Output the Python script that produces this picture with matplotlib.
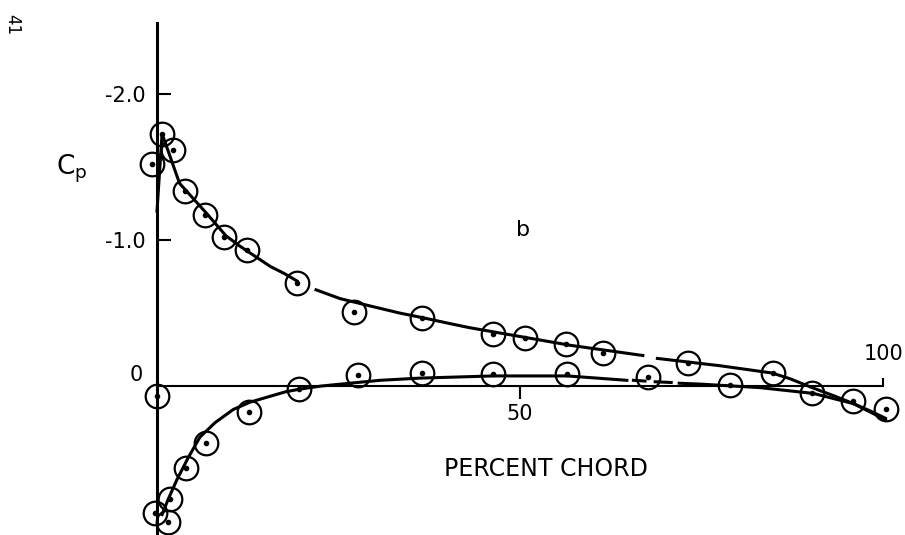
import numpy as np
import matplotlib
matplotlib.use("Agg")
import matplotlib.pyplot as plt

plt.rcParams['font.family'] = ['DejaVu Sans']
plt.rcParams['axes.unicode_minus'] = False

# measured points (percent chord, Cp)
upper_x = [-0.7, 0.7, 2.2, 3.9, 6.6, 9.2, 12.4, 19.3, 27.1, 36.5, 46.3, 50.7,
           56.3, 61.4, 73.1, 84.8, 90.2, 95.9, 100.4]
upper_cp = [-1.52, -1.73, -1.62, -1.34, -1.17, -1.02, -0.93, -0.71, -0.51, -0.47,
            -0.36, -0.33, -0.29, -0.23, -0.16, -0.09, 0.05, 0.10, 0.16]
lower_x = [0.0, -0.3, 1.5, 1.8, 4.0, 6.8, 12.7, 19.6, 27.7, 36.5, 46.3, 56.5,
           67.6, 78.9]
lower_cp = [0.07, 0.87, 0.93, 0.77, 0.56, 0.39, 0.18, 0.02, -0.075, -0.09,
            -0.08, -0.08, -0.06, -0.01]

# faired curves (nan = break in the line)
curve_up_x = [0.0, 0.7, 3.1, 6.9, 9.5, 11.4, 13.5, 15.6, 17.6, 19.3, np.nan,
              21.9, 25.2, 29.3, 33.5, 36.5, 40.2, 43.1, 50.0, 56.9, 66.9, np.nan,
              68.9, 77.5, 84.7, 87.2, 90.2, 93.4, 95.9, 98.2, 100.3]
curve_up_cp = [-1.2, -1.73, -1.39, -1.18, -1.03, -0.96, -0.89, -0.82, -0.77, -0.72,
               np.nan, -0.66, -0.60, -0.55, -0.50, -0.47, -0.43, -0.40, -0.34,
               -0.28, -0.21, np.nan, -0.19, -0.14, -0.09, -0.05, 0.01, 0.07, 0.12,
               0.17, 0.22]
curve_lo_x = [0.7, 1.5, 2.75, 4.3, 5.9, 8.0, 10.5, 12.8, 15.2, 17.6, 19.7, 22.5,
              25.3, 30.7, 36.2, 46.3, 56.5, 64.7, np.nan, 65.6, 67.2, np.nan,
              68.6, 70.8, np.nan, 71.9, 74.8, 83.0, 90.4, 95.9, 100.3]
curve_lo_cp = [0.88, 0.78, 0.64, 0.49, 0.35, 0.25, 0.16, 0.11, 0.075, 0.04, 0.02,
               0.0, -0.014, -0.04, -0.055, -0.07, -0.07, -0.04, np.nan, -0.04,
               -0.035, np.nan, -0.03, -0.025, np.nan, -0.02, -0.014, 0.01, 0.05,
               0.12, 0.23]

fig = plt.figure(figsize=(9.05, 5.35), dpi=100)
ax = fig.add_axes([0.1494, 0.0, 0.8386, 0.9738])
ax.set_xlim(-3, 101.5)
ax.set_ylim(1.02, -2.55)

for s in ['top', 'right']:
    ax.spines[s].set_visible(False)
ax.spines['left'].set_position(('data', 0))
ax.spines['bottom'].set_position(('data', 0))
ax.spines['left'].set_bounds(1.02, -2.49)
ax.spines['bottom'].set_bounds(0, 100)
ax.spines['left'].set_linewidth(2.2)
ax.spines['bottom'].set_linewidth(1.5)

ax.set_yticks([-2.0, -1.0])
ax.set_yticklabels(['-2.0', '-1.0'])
ax.tick_params(axis='y', direction='in', length=10, width=1.5, pad=8, labelsize=15)
ax.set_xticks([50])
ax.set_xticklabels(['50'])
ax.tick_params(axis='x', which='major', direction='out', length=9, width=1.5,
               pad=4, labelsize=15)
ax.set_xticks([100], minor=True)
ax.set_xticklabels(['100'], minor=True)
ax.tick_params(axis='x', which='minor', direction='in', length=6, width=1.5,
               pad=-30, labelsize=15)

ax.plot(curve_up_x, curve_up_cp, color='black', lw=2.2, clip_on=False,
        solid_joinstyle='round')
ax.plot(curve_lo_x, curve_lo_cp, color='black', lw=2.2, clip_on=False,
        solid_joinstyle='round')

for xs, cs in [(upper_x, upper_cp), (lower_x, lower_cp)]:
    ax.plot(xs, cs, 'o', ms=17, mfc='none', mec='black', mew=1.6, clip_on=False)
    ax.plot(xs, cs, 'o', ms=3, color='black', clip_on=False)

ax.text(-1.9, -0.075, '0', fontsize=15, ha='right', va='center')
ax.text(-11.7, -1.49, r'C$_\mathregular{p}$', fontsize=19, ha='center', va='center')
ax.text(50.4, -1.07, 'b', fontsize=16, ha='center', va='center')
ax.text(53.5, 0.565, 'PERCENT CHORD', fontsize=17, ha='center', va='center')
fig.text(12 / 905, 1 - 25 / 535, '41', fontsize=12, rotation=-90,
         ha='center', va='center')

fig.savefig('out.png', dpi=100)
